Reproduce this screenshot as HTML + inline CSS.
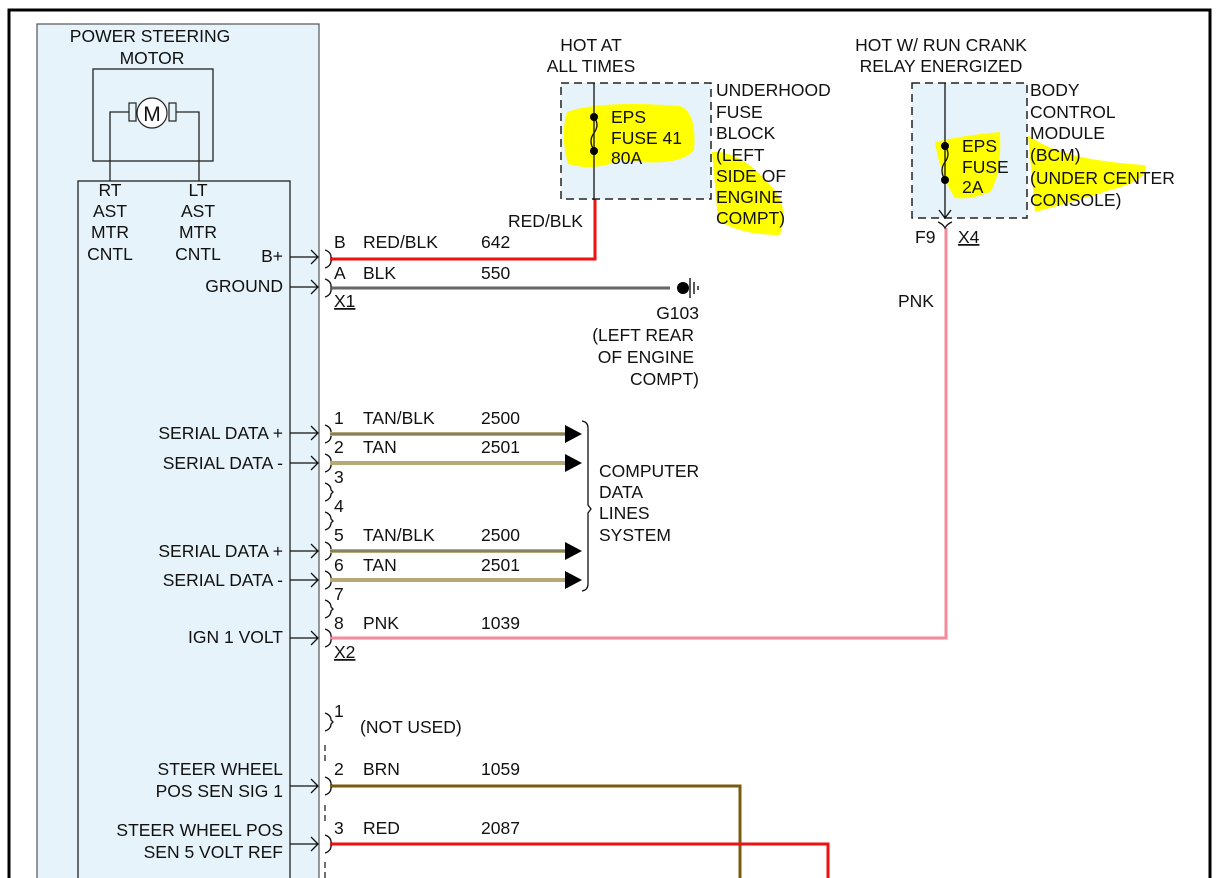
<!DOCTYPE html>
<html><head><meta charset="utf-8"><style>
html,body{margin:0;padding:0;background:#fff;}
svg{display:block;font-family:"Liberation Sans",Arial,sans-serif;}
text{font-size:17.5px;fill:#111;}
</style></head><body>
<svg width="1221" height="878" viewBox="0 0 1221 878" xmlns="http://www.w3.org/2000/svg">
<defs>
<path id="br" d="M325,-9 Q331,-7 331,-2 L333,0 L331,2 Q331,7 325,9" fill="none" stroke="#111" stroke-width="1.3"/>
</defs>
<path d="M9,878 L9,10 L1210,10 L1210,878" fill="none" stroke="#000" stroke-width="3"/>
<rect x="37" y="24" width="282" height="870" fill="#e6f3fa" stroke="#555" stroke-width="1.2"/>
<rect x="78" y="181" width="212" height="710" fill="#e6f3fa" stroke="#222" stroke-width="1.3"/>
<rect x="93" y="69" width="120" height="92" fill="none" stroke="#222" stroke-width="1.3"/>
<text x="150" y="42" text-anchor="middle">POWER STEERING</text>
<text x="152" y="64" text-anchor="middle">MOTOR</text>
<path d="M110,181 L110,112 L129,112 M176,112 L199,112 L199,181" fill="none" stroke="#222" stroke-width="1.3"/>
<rect x="129" y="103" width="7" height="18" fill="none" stroke="#222" stroke-width="1.2"/>
<rect x="169" y="103" width="7" height="18" fill="none" stroke="#222" stroke-width="1.2"/>
<circle cx="152" cy="113" r="15" fill="#fff" stroke="#222" stroke-width="1.2"/>
<text x="152" y="121" text-anchor="middle" style="font-size:21px">M</text>
<g text-anchor="middle">
<text x="110" y="196">RT</text><text x="110" y="217">AST</text><text x="110" y="238">MTR</text><text x="110" y="260">CNTL</text>
<text x="198" y="196">LT</text><text x="198" y="217">AST</text><text x="198" y="238">MTR</text><text x="198" y="260">CNTL</text>
</g>
<g text-anchor="end">
<text x="283" y="262">B+</text>
<text x="283" y="292">GROUND</text>
<text x="283" y="439">SERIAL DATA +</text>
<text x="283" y="469">SERIAL DATA -</text>
<text x="283" y="557">SERIAL DATA +</text>
<text x="283" y="586">SERIAL DATA -</text>
<text x="283" y="643">IGN 1 VOLT</text>
<text x="283" y="775">STEER WHEEL</text>
<text x="283" y="797">POS SEN SIG 1</text>
<text x="283" y="836">STEER WHEEL POS</text>
<text x="283" y="858">SEN 5 VOLT REF</text>
</g>
<g fill="none" stroke="#111" stroke-width="1.3">
<path d="M290,257 H318 M311,250 L318,257 L311,264"/>
<path d="M290,287 H318 M311,280 L318,287 L311,294"/>
<path d="M290,433 H318 M311,426 L318,433 L311,440"/>
<path d="M290,463 H318 M311,456 L318,463 L311,470"/>
<path d="M290,551 H318 M311,544 L318,551 L311,558"/>
<path d="M290,580 H318 M311,573 L318,580 L311,587"/>
<path d="M290,638 H318 M311,631 L318,638 L311,645"/>
<path d="M290,786 H318 M311,779 L318,786 L311,793"/>
<path d="M290,844 H318 M311,837 L318,844 L311,851"/>
</g>
<use href="#br" y="259"/><use href="#br" y="288"/>
<use href="#br" y="434"/><use href="#br" y="463"/><use href="#br" y="492"/><use href="#br" y="521"/>
<use href="#br" y="551"/><use href="#br" y="580"/><use href="#br" y="609"/><use href="#br" y="638"/>
<use href="#br" y="722"/><use href="#br" y="786"/><use href="#br" y="844"/>
<path d="M325,745 V765 M325,805 V825 M325,862 V878" stroke="#111" stroke-width="1.2" stroke-dasharray="6,4"/>
<path d="M330,259 H595 V199" fill="none" stroke="#ee1111" stroke-width="3"/>
<line x1="330" y1="288" x2="670" y2="288" stroke="#666" stroke-width="3"/>
<g stroke="#b8a878" stroke-width="4">
<line x1="330" y1="434" x2="566" y2="434"/><line x1="330" y1="463" x2="566" y2="463"/>
<line x1="330" y1="551" x2="566" y2="551"/><line x1="330" y1="580" x2="566" y2="580"/>
</g>
<g stroke="#4a5a50" stroke-width="1">
<line x1="330" y1="434" x2="566" y2="434"/><line x1="330" y1="551" x2="566" y2="551"/>
</g>
<g fill="#000">
<path d="M565,425 L582,434 L565,443Z"/><path d="M565,454 L582,463 L565,472Z"/>
<path d="M565,542 L582,551 L565,560Z"/><path d="M565,571 L582,580 L565,589Z"/>
</g>
<path d="M582,421 Q588,422 588,428 V505 L591,509 L588,513 V584 Q588,590 582,591" fill="none" stroke="#111" stroke-width="1.3"/>
<path d="M330,638 H946 V228" fill="none" stroke="#f58a9a" stroke-width="3"/>
<path d="M330,786 H740 V878" fill="none" stroke="#7a5a10" stroke-width="3"/>
<path d="M330,844 H828 V878" fill="none" stroke="#ee1111" stroke-width="3"/>
<text x="334" y="248">B</text><text x="363" y="248">RED/BLK</text><text x="481" y="248">642</text>
<text x="334" y="279">A</text><text x="363" y="279">BLK</text><text x="481" y="279">550</text>
<text x="334" y="307" style="text-decoration:underline">X1</text>
<text x="508" y="227">RED/BLK</text>
<text x="334" y="424">1</text><text x="363" y="424">TAN/BLK</text><text x="481" y="424">2500</text>
<text x="334" y="453">2</text><text x="363" y="453">TAN</text><text x="481" y="453">2501</text>
<text x="334" y="483">3</text><text x="334" y="512">4</text>
<text x="334" y="541">5</text><text x="363" y="541">TAN/BLK</text><text x="481" y="541">2500</text>
<text x="334" y="571">6</text><text x="363" y="571">TAN</text><text x="481" y="571">2501</text>
<text x="334" y="600">7</text>
<text x="334" y="629">8</text><text x="363" y="629">PNK</text><text x="481" y="629">1039</text>
<text x="334" y="658" style="text-decoration:underline">X2</text>
<text x="334" y="717">1</text><text x="360" y="733">(NOT USED)</text>
<text x="334" y="775">2</text><text x="363" y="775">BRN</text><text x="481" y="775">1059</text>
<text x="334" y="834">3</text><text x="363" y="834">RED</text><text x="481" y="834">2087</text>
<text x="599" y="477">COMPUTER</text><text x="599" y="498">DATA</text><text x="599" y="519">LINES</text><text x="599" y="541">SYSTEM</text>
<circle cx="683" cy="288" r="6" fill="#000"/>
<path d="M690,278 V298 M694,282 V294 M698,286 V290" stroke="#000" stroke-width="1.3"/>
<text x="699" y="319" text-anchor="end">G103</text>
<text x="694" y="341" text-anchor="end">(LEFT REAR</text>
<text x="694" y="363" text-anchor="end">OF ENGINE</text>
<text x="699" y="385" text-anchor="end">COMPT)</text>
<text x="591" y="51" text-anchor="middle">HOT AT</text>
<text x="591" y="72" text-anchor="middle">ALL TIMES</text>
<rect x="561" y="83" width="150" height="116" fill="#e6f3fa" stroke="#222" stroke-width="1.5" stroke-dasharray="8,5"/>
<path d="M567,112 Q600,100 680,106 Q697,112 694,150 Q680,168 620,160 Q595,172 568,164 Q560,135 567,112Z" fill="#ffff00"/>
<path d="M712,152 Q740,150 770,185 Q790,205 780,235 Q740,235 718,220Z" fill="#ffff00"/>
<line x1="594" y1="83" x2="594" y2="200" stroke="#111" stroke-width="1.3"/>
<path d="M594,117 Q600,125 594,133 Q588,141 594,150" fill="none" stroke="#111" stroke-width="1.3"/>
<circle cx="594" cy="117" r="4" fill="#000"/><circle cx="594" cy="151" r="4" fill="#000"/>
<text x="611" y="123">EPS</text><text x="611" y="144">FUSE 41</text><text x="611" y="164">80A</text>
<text x="716" y="96">UNDERHOOD</text><text x="716" y="118">FUSE</text><text x="716" y="139">BLOCK</text>
<text x="716" y="161">(LEFT</text><text x="716" y="182">SIDE OF</text><text x="716" y="203">ENGINE</text><text x="716" y="224">COMPT)</text>
<text x="941" y="51" text-anchor="middle">HOT W/ RUN CRANK</text>
<text x="941" y="72" text-anchor="middle">RELAY ENERGIZED</text>
<rect x="912" y="83" width="115" height="135" fill="#e6f3fa" stroke="#222" stroke-width="1.5" stroke-dasharray="8,5"/>
<path d="M935,142 Q965,135 1000,132 Q1002,175 990,192 Q970,200 955,198 Q940,175 935,142Z" fill="#ffff00"/>
<path d="M1028,135 Q1060,160 1145,165 Q1150,180 1110,190 Q1080,200 1035,212 Z" fill="#ffff00"/>
<line x1="945" y1="83" x2="945" y2="218" stroke="#111" stroke-width="1.3"/>
<path d="M939,210 L945,218 L951,210" fill="none" stroke="#111" stroke-width="1.3"/>
<path d="M945,146 Q951,154 945,162 Q939,170 945,180" fill="none" stroke="#111" stroke-width="1.3"/>
<circle cx="945" cy="146" r="4" fill="#000"/><circle cx="945" cy="180" r="4" fill="#000"/>
<text x="962" y="152">EPS</text><text x="962" y="173">FUSE</text><text x="962" y="193">2A</text>
<text x="1030" y="96">BODY</text><text x="1030" y="118">CONTROL</text><text x="1030" y="139">MODULE</text>
<text x="1030" y="161">(BCM)</text><text x="1030" y="184">(UNDER CENTER</text><text x="1030" y="206">CONSOLE)</text>
<path d="M938,222 Q943,224 945,228 Q947,224 952,222" fill="none" stroke="#111" stroke-width="1.3"/>
<text x="915" y="243">F9</text>
<text x="958" y="243" style="text-decoration:underline">X4</text>
<text x="898" y="307">PNK</text>
</svg>
</body></html>
